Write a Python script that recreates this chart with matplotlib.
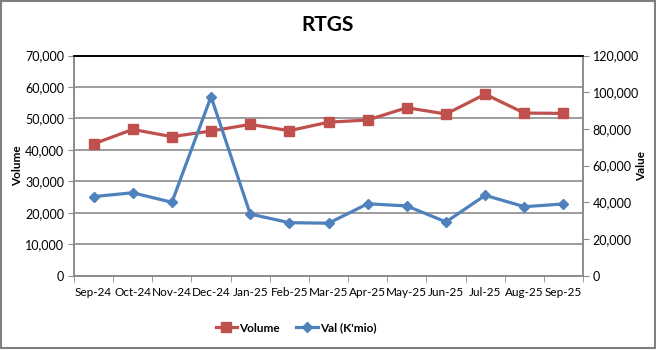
import matplotlib.pyplot as plt
from matplotlib.patches import Rectangle
from matplotlib.ticker import FuncFormatter, MultipleLocator

months = ['Sep-24', 'Oct-24', 'Nov-24', 'Dec-24', 'Jan-25', 'Feb-25', 'Mar-25',
          'Apr-25', 'May-25', 'Jun-25', 'Jul-25', 'Aug-25', 'Sep-25']
volume = [41900, 46500, 44200, 46000, 48100, 46100, 48800,
          49500, 53400, 51400, 57700, 51700, 51600]
value_kmio = [43100, 45200, 40000, 97600, 33600, 28900, 28600,
              39200, 38000, 29300, 43800, 37600, 39100]

plt.rcParams['font.family'] = ['Lato', 'DejaVu Sans']

red = '#C0504D'
blue = '#4F81BD'
grid_grey = '#8C8C8C'
fs = 8.5

fig = plt.figure(figsize=(6.56, 3.5), dpi=100)
ax = fig.add_axes([0.1128, 0.2123, 0.776, 0.6291])
ax2 = ax.twinx()

x = list(range(len(months)))
l1, = ax.plot(x, volume, color=red, lw=2.3, marker='s', ms=6.5, label='Volume', zorder=3)
l2, = ax2.plot(x, value_kmio, color=blue, lw=2.3, marker='D', ms=5.5, label="Val (K'mio)", zorder=3)

fmt = FuncFormatter(lambda v, p: f'{int(v):,}')
ax.set_ylim(0, 70000)
ax.yaxis.set_major_locator(MultipleLocator(10000))
ax.yaxis.set_major_formatter(fmt)
ax2.set_ylim(0, 120000)
ax2.yaxis.set_major_locator(MultipleLocator(20000))
ax2.yaxis.set_major_formatter(fmt)

ax.set_xlim(-0.5, len(months) - 0.5)
ax.set_xticks(x)
ax.set_xticklabels(months)
ax.set_xticks([i - 0.5 for i in range(len(months) + 1)], minor=True)
ax.tick_params(axis='x', which='major', length=0, pad=8, labelsize=fs)
ax.tick_params(axis='x', which='minor', length=4, color=grid_grey, direction='out')
ax.tick_params(axis='y', length=4, color=grid_grey, labelsize=fs + 0.5, pad=3)
ax2.tick_params(axis='y', length=4, color=grid_grey, labelsize=fs + 0.5, pad=3)

ax.yaxis.grid(True, color=grid_grey, lw=1.2)
ax.set_axisbelow(True)

for a in (ax, ax2):
    for side in ('left', 'right', 'bottom'):
        a.spines[side].set_color(grid_grey)
        a.spines[side].set_linewidth(1.2)
    a.spines['top'].set_color('black')
    a.spines['top'].set_linewidth(1.2)

ax.set_ylabel('Volume', fontweight='bold', fontsize=fs)
ax.yaxis.set_label_coords(-0.100, 0.5)
ax2.set_ylabel('Value', fontweight='bold', fontsize=fs)
ax2.yaxis.set_label_coords(1.104, 0.5)

fig.text(0.5, 0.929, 'RTGS', ha='center', va='center', fontsize=15, fontweight='bold')

fig.legend(handles=[l1, l2], loc='center', bbox_to_anchor=(296 / 656, 1 - 328 / 350),
           ncol=2, frameon=False, handlelength=1.8, columnspacing=1.4,
           handletextpad=0.2, prop={'weight': 'bold', 'size': fs})

fig.patches.append(Rectangle((0.002, 0.006), 0.996, 0.99, transform=fig.transFigure,
                             fill=False, edgecolor='#7F7F7F', lw=1.5))

fig.savefig('out.png', dpi=100)
